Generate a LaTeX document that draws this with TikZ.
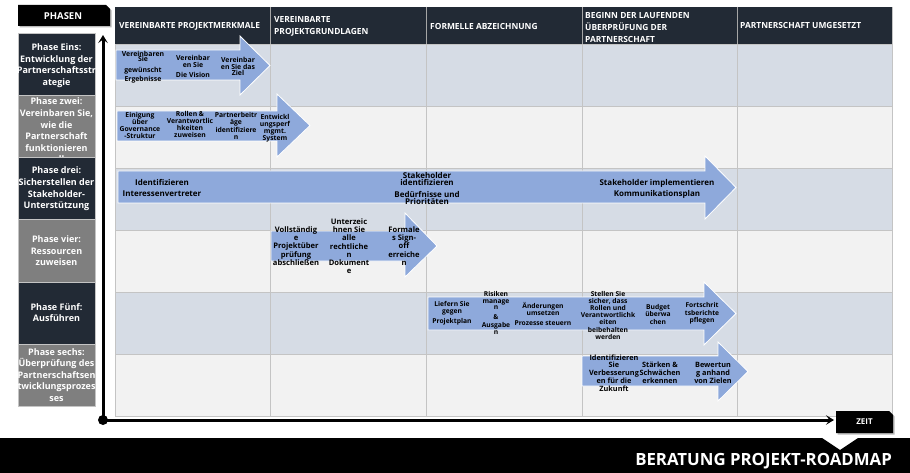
\documentclass[tikz,border=0pt]{standalone}
\usepackage{fontspec}
\setmainfont{Open Sans}
\usetikzlibrary{arrows.meta}
\lineskiplimit=-20pt
\definecolor{navy}{HTML}{222A35}
\definecolor{phgrey}{HTML}{7F7F7F}
\definecolor{rowblue}{HTML}{D6DCE5}
\definecolor{rowgrey}{HTML}{F2F2F2}
\definecolor{gridline}{HTML}{C4C4C4}
\definecolor{arrowblue}{HTML}{8EA9DB}
\newcommand{\roadarrow}[8]{\draw[rarrow] (#1,#4) -- (#2,#4) -- (#2,#6) -- (#3,#8) -- (#2,#7) -- (#2,#5) -- (#1,#5) -- cycle;}
\tikzset{
  rarrow/.style={fill=arrowblue, draw=white, line width=0.8pt, line join=miter},
  atext/.style n args={2}{font=\fontsize{#1}{#2}\selectfont\bfseries, align=center, inner sep=0pt, text=black},
  htext/.style={font=\fontsize{8.4}{12}\selectfont\bfseries, text=white, align=left, inner sep=0pt, anchor=west},
  phasebox/.style={minimum width=77pt, minimum height=62.2pt, inner sep=0pt, draw=gridline, line width=0.4pt},
  phtext/.style={font=\fontsize{9}{11.6}\selectfont\bfseries, text=white, align=center, inner sep=0pt},
  axisline/.style={line width=3pt, -{Stealth[length=8pt,width=9.5pt,inset=3.5pt]}},
  gridrule/.style={draw=gridline, line width=0.6pt},
  tabtext/.style={font=\fontsize{9}{10}\selectfont\bfseries, text=white, inner sep=0pt},
}
\begin{document}
\begin{tikzpicture}[x=1pt,y=-1pt]
\useasboundingbox (0,0) rectangle (910,473);
\fill[white] (0,0) rectangle (910,473);
% rows
\foreach \k/\c in {0/rowblue,1/rowgrey,2/rowblue,3/rowgrey,4/rowblue,5/rowgrey}{
  \fill[\c] (115,44+62*\k) rectangle (892,106+62*\k);
}
\foreach \yy in {44,106,168,230,292,354,416}{\draw[gridrule] (115,\yy) -- (892,\yy);}
\foreach \xx in {115,270,426,582,737,892}{\draw[gridrule] (\xx,7) -- (\xx,416);}
% header
\fill[navy] (115,7) rectangle (892,44);
\foreach \xx in {270,426,582,737}{\draw[draw=gray!70, line width=0.6pt] (\xx,7) -- (\xx,44);}
\node[htext] (h1) at (119,26) {VEREINBARTE PROJEKTMERKMALE};
\node[htext] (h2) at (274,26) {VEREINBARTE\\PROJEKTGRUNDLAGEN};
\node[htext] (h3) at (430,26) {FORMELLE ABZEICHNUNG};
\node[htext] (h4) at (585,28) {BEGINN DER LAUFENDEN\\ÜBERPRÜFUNG DER\\PARTNERSCHAFT};
\node[htext] (h5) at (740,26) {PARTNERSCHAFT UMGESETZT};
% arrows
\roadarrow{116}{240}{270}{50}{80}{36}{95}{65.5}
\roadarrow{117}{277}{310}{111}{141}{94}{157}{125.5}
\roadarrow{118}{705}{736}{171}{203}{156}{219}{187.5}
\roadarrow{271}{405}{437}{231}{261}{213}{277}{246}
\roadarrow{428}{704}{736}{297}{330}{282}{345}{313.5}
\roadarrow{582}{718}{748}{356}{386}{342}{401}{371.5}
% row 1 texts
\node[atext={6.9}{7}] (r1a) at (143,67.2) {Vereinbaren\\[-1.2pt]Sie\\[3.2pt]gewünscht\\[2.7pt]Ergebnisse};
\node[atext={6.9}{6.7}] (r1b) at (193,66.7) {Vereinbar\\en Sie\\[3.3pt]Die Vision};
\node[atext={6.9}{6.5}] (r1c) at (238,66.5) {Vereinbar\\en Sie das\\Ziel};
% row 2 texts
\node[atext={6.8}{7}] (r2a) at (140,125.5) {Einigung\\über\\Governance\\-Struktur};
\node[atext={6.8}{7}] (r2b) at (190,124.5) {Rollen \&\\Verantwortlic\\hkeiten\\zuweisen};
\node[atext={6.8}{7.4}] (r2c) at (236,126) {Partnerbeitr\\äge\\identifiziere\\n};
\node[atext={6.8}{7}] (r2d) at (275,128) {Entwickl\\ungsperf\\mgmt.\\System};
% row 3 texts
\node[atext={8}{8}] (r3a) at (162,187.5) {Identifizieren\\[3pt]Interessenvertreter};
\node[atext={8}{8}] (r3b) at (427,188.5) {Stakeholder\\identifizieren\\[3pt]Bedürfnisse und\\Prioritäten};
\node[atext={8}{8}] (r3c) at (657,188.5) {Stakeholder implementieren\\[3pt]Kommunikationsplan};
% row 4 texts
\node[atext={7.6}{8.2}] (r4a) at (296,246) {Vollständig\\e\\Projektüber\\prüfung\\abschließen};
\node[atext={7.6}{8.2}] (r4b) at (349,246.2) {Unterzeic\\hnen Sie\\alle\\rechtliche\\n\\Dokument\\e};
\node[atext={7.6}{8.2}] (r4c) at (404,246) {Formale\\s Sign-\\off\\erreiche\\n};
% row 5 texts
\node[atext={6.7}{7.2}] (r5a) at (452,313) {Liefern Sie\\gegen\\[2.8pt]Projektplan};
\node[atext={6.7}{7.2}] (r5b) at (496,312.8) {Risiken\\[-0.5pt]manage\\[-0.5pt]n\\[3pt]\&\\Ausgabe\\n};
\node[atext={6.7}{7}] (r5c) at (543,314.3) {Änderungen\\umsetzen\\[3pt]Prozesse steuern};
\node[atext={6.7}{7.1}] (r5d) at (608,315.3) {Stellen Sie\\sicher, dass\\Rollen und\\Verantwortlichk\\eiten\\beibehalten\\werden};
\node[atext={6.7}{7.5}] (r5e) at (658,314.2) {Budget\\überwa\\chen};
\node[atext={6.7}{7.5}] (r5f) at (702,313.5) {Fortschrit\\tsberichte\\pflegen};
% row 6 texts
\node[atext={7.3}{7.75}] (r6a) at (614,372.8) {Identifizieren\\Sie\\Verbesserung\\en für die\\Zukunft};
\node[atext={7.3}{7.75}] (r6b) at (660,372.8) {Stärken \&\\Schwächen\\erkennen};
\node[atext={7.3}{7.75}] (r6c) at (713,372.8) {Bewertun\\g anhand\\von Zielen};
% phase column
\node[phasebox, fill=navy] (pb1) at (56.5,64.1) {};
\node[phtext] (pt1) at (56.5,65.5) {Phase Eins:\\Entwicklung der\\Partnerschaftsstr\\ategie};
\node[phasebox, fill=phgrey] (pb2) at (56.5,126.3) {};
\node[phtext] (pt2) at (56.5,130.5) {Phase zwei:\\Vereinbaren Sie,\\wie die\\Partnerschaft\\funktionieren\\soll};
\node[phasebox, fill=navy] (pb3) at (56.5,188.5) {};
\node[phtext] (pt3) at (56.5,189) {Phase drei:\\Sicherstellen der\\Stakeholder-\\Unterstützung};
\node[phasebox, fill=phgrey] (pb4) at (56.5,250.7) {};
\node[phtext] (pt4) at (56.5,251) {Phase vier:\\Ressourcen\\zuweisen};
\node[phasebox, fill=navy] (pb5) at (56.5,312.9) {};
\node[phtext] (pt5) at (56.5,312.5) {Phase Fünf:\\Ausführen};
\node[phasebox, fill=phgrey] (pb6) at (56.5,375.1) {};
\node[phtext] (pt6) at (56.5,375) {Phase sechs:\\Überprüfung des\\Partnerschaftsen\\twicklungsprozes\\ses};
% PHASEN tab
\fill[gray!55, xshift=1.5pt, yshift=-1.5pt] (18,5) -- (106,5) -- (110,9) -- (110,26) -- (18,26) -- cycle;
\fill[black] (18,5) -- (106,5) -- (110,9) -- (110,26) -- (18,26) -- cycle;
\node[tabtext, font=\fontsize{9.5}{10}\selectfont\bfseries] (phasen) at (63,16) {PHASEN};
% axes
\coordinate (org) at (103,420);
\coordinate (ytip) at (103,35);
\coordinate (xtip) at (834,420);
\draw[axisline] (org) -- (ytip);
\draw[axisline] (org) -- (xtip);
\fill[black] (org) circle (5);
% ZEIT tab
\fill[gray!55, xshift=1.5pt, yshift=-1.5pt] (836,411) -- (889,411) -- (893,415) -- (893,433) -- (836,433) -- cycle;
\fill[black] (836,411) -- (889,411) -- (893,415) -- (893,433) -- (836,433) -- cycle;
\node[tabtext, font=\fontsize{8}{9}\selectfont\bfseries] (zeit) at (864.5,422) {ZEIT};
% bottom banner
\fill[black] (0,438) -- (822,438) -- (840,450) -- (858,438) -- (910,438) -- (910,473) -- (0,473) -- cycle;
\node[font=\fontsize{16.8}{18}\selectfont\bfseries, text=white, inner sep=0pt, anchor=base east] (title) at (892,465) {BERATUNG PROJEKT-ROADMAP};
\end{tikzpicture}
\end{document}
